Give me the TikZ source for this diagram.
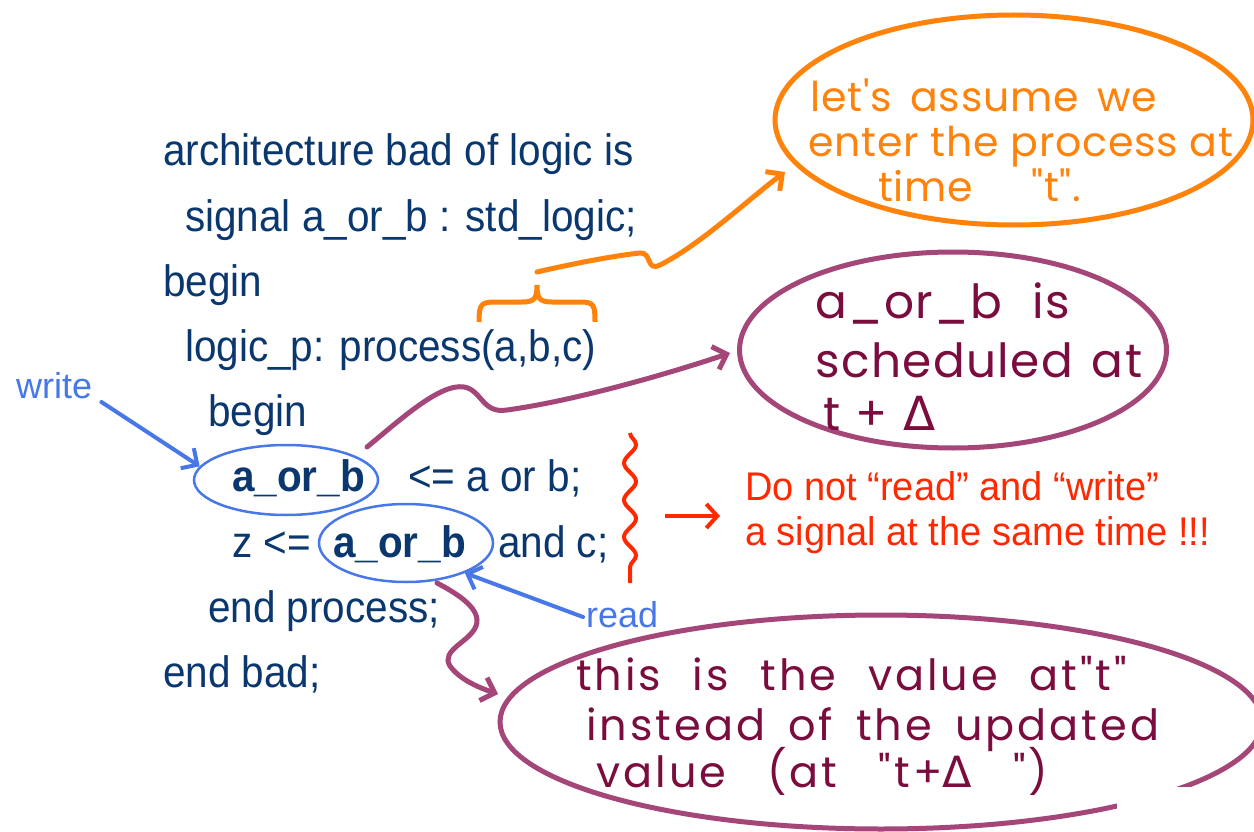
\documentclass[tikz,border=0pt]{standalone}
\usepackage{fontspec}
\usepackage{graphicx}
\setmainfont{Liberation Sans}
\newfontfamily\codefont{Liberation Sans}[FakeStretch=0.92]
\newfontfamily\redfont{Liberation Sans}[FakeStretch=0.95]
\newfontfamily\handa{Poppins}[LetterSpace=2]
\newfontfamily\handb{Poppins}[LetterSpace=3]
\newfontfamily\handc{Poppins}[LetterSpace=7]
\newfontfamily\dvfont{DejaVu Sans}
\usetikzlibrary{shapes.geometric,arrows.meta,decorations.pathmorphing}
\definecolor{navy}{RGB}{10,55,110}
\definecolor{lblue}{RGB}{72,120,232}
\definecolor{orng}{RGB}{255,130,10}
\definecolor{purp}{RGB}{165,70,120}
\definecolor{maroon}{RGB}{122,12,62}
\definecolor{redc}{RGB}{255,40,0}
\newlength\hwlen
\newcommand{\hw}[2]{\settowidth{\hwlen}{#2}\ifdim\hwlen<#1pt\makebox[#1pt][s]{#2}\else\resizebox{#1pt}{\height}{#2}\fi}
\begin{document}
\begin{tikzpicture}[x=1pt,y=-1pt,
  code/.style={anchor=base west,inner sep=0pt,text=navy,font=\codefont\fontsize{44}{44}\selectfont},
  codeb/.style={code,font=\codefont\bfseries\fontsize{44}{44}\selectfont},
  lbl/.style={anchor=base west,inner sep=0pt,text=lblue,font=\fontsize{36}{36}\selectfont},
  redtxt/.style={anchor=base west,inner sep=0pt,text=redc,font=\redfont\fontsize{40}{40}\selectfont},
  handO/.style={anchor=base west,inner sep=0pt,text=orng,font=\handa\fontsize{41}{41}\selectfont},
  handP/.style={anchor=base west,inner sep=0pt,text=maroon,font=\handb\fontsize{47}{47}\selectfont},
  handQ/.style={anchor=base west,inner sep=0pt,text=maroon,font=\handc\fontsize{43}{43}\selectfont},
  bell/.style={ellipse,draw=lblue,line width=2.5pt,inner sep=0pt},
  pell/.style={ellipse,draw=purp,line width=5pt,inner sep=0pt},
  oell/.style={ellipse,draw=orng,line width=5pt,inner sep=0pt},
  barb/.style={-{Straight Barb[length=12pt,width=24pt]}},
  bluearrow/.style={draw=lblue,line width=4pt,line cap=round,barb},
  purparrow/.style={draw=purp,line width=5pt,line cap=round,barb},
  orngarrow/.style={draw=orng,line width=5pt,line cap=round,barb},
  redarrow/.style={draw=redc,line width=4pt,-{Straight Barb[length=11pt,width=24pt]}}
]
\clip (0,0) rectangle (1254,832);
\fill[white] (0,0) rectangle (1254,832);

% code
\node[code] (l1) at (163,166) {architecture bad of logic is};
\node[code] (l2) at (185,231) {signal a\_or\_b : std\_logic;};
\node[code] (l3) at (163,296) {begin};
\node[code] (l4) at (185,361) {logic\_p: process(a,b,c)};
\node[code] (l5) at (208,426) {begin};
\node[codeb] (l6a) at (232,491) {a\_or\_b};
\node[code] (l6b) at (408,491) {<= a or b;};
\node[code] (l7a) at (232,557) {z <=};
\node[codeb] (l7b) at (333,557) {a\_or\_b};
\node[code] (l7c) at (498,557) {and c;};
\node[code] (l8) at (208,622) {end process;};
\node[code] (l9) at (163,687) {end bad;};

% blue ellipses and labels
\node[bell,minimum width=184pt,minimum height=70pt] (w1) at (286,480) {};
\node[bell,minimum width=174pt,minimum height=78pt] (r1) at (406,543) {};
\node[lbl] (wl) at (16,398) {write};
\node[lbl] (rl) at (586,627) {read};
\draw[bluearrow] ([shift={(9,4)}]wl.base east) -- (w1.171);
\draw[bluearrow] ([shift={(-3,-10)}]rl.base west) -- (r1.333);

% orange brace, connector, ellipse
\coordinate (bl) at (479,322);
\coordinate (bt) at (537,285);
\coordinate (br) at (595,322);
\draw[orng,line width=5pt]
  (bl) .. controls (479,304) and (481,302) .. (496,302) -- (522,302)
  .. controls (535,302) and (537,298) .. (bt)
  .. controls (537,298) and (539,302) .. (552,302) -- (580,302)
  .. controls (594,302) and (595,305) .. (br);
\node[oell,minimum width=478pt,minimum height=210pt] (oe) at (1014,120) {};
\coordinate (os) at (537,272);
\coordinate (ot) at (785,172);
\draw[orngarrow] (os) .. controls (580,262) and (620,255) .. (640,253)
  .. controls (652,252) and (646,272) .. (660,265)
  .. controls (700,245) and (750,198) .. (ot);
\node[handO] (o1) at (810,112) {\hw{347}{let's assume we}};
\node[handO] (o2) at (808,157) {\hw{425}{enter the process at}};
\node[handO] (o3) at (878,202) {time\hspace{58pt}"t".};

% purple ellipse 1
\node[pell,minimum width=427pt,minimum height=196pt] (pe1) at (953,350) {};
\coordinate (ps1) at (367,447);
\coordinate (pt1) at (730,353);
\draw[purparrow] (ps1) .. controls (400,420) and (440,383) .. (464,387)
  .. controls (482,390) and (482,414) .. (507,410)
  .. controls (580,400) and (680,370) .. (pt1);
\node[handP] (p11) at (815,318) {\hw{255}{a\_or\_b is}};
\node[handP] (p12) at (815,377) {\hw{327}{scheduled at}};
\node[handP] (p13) at (823,430) {\hw{112}{t + {\dvfont Δ}}};

% purple ellipse 2
\node[pell,minimum width=762pt,minimum height=214pt] (pe2) at (881,722) {};
\fill[white] (1117,787) rectangle (1207,832);
\coordinate (ps2) at (437,583);
\coordinate (pt2) at (498,694);
\draw[purparrow] (ps2) .. controls (460,595) and (482,610) .. (476,626)
  .. controls (470,642) and (440,650) .. (450,666)
  .. controls (460,680) and (480,688) .. (pt2);
\node[handQ] (p21) at (576,690) {\hw{551}{this is the value at"t"}};
\node[handQ] (p22) at (586,740) {\hw{573}{instead of the updated}};
\node[handQ] (p23) at (596,787) {\hw{452}{value (at "t+{\dvfont Δ} ")}};

% red wavy brace, arrow, text
\coordinate (rw1) at (630,433);
\coordinate (rw2) at (630,583);
\draw[redc,line width=4pt,decorate,decoration={snake,amplitude=6pt,segment length=37pt}] (rw1) -- (rw2);
\node[redtxt] (t1) at (745,500) {Do not “read” and “write”};
\node[redtxt] (t2) at (745,545) {a signal at the same time !!!};
\coordinate (ra) at (665,516);
\draw[redarrow] (ra) -- ([xshift=-25pt]t1.west |- ra);
\end{tikzpicture}
\end{document}
